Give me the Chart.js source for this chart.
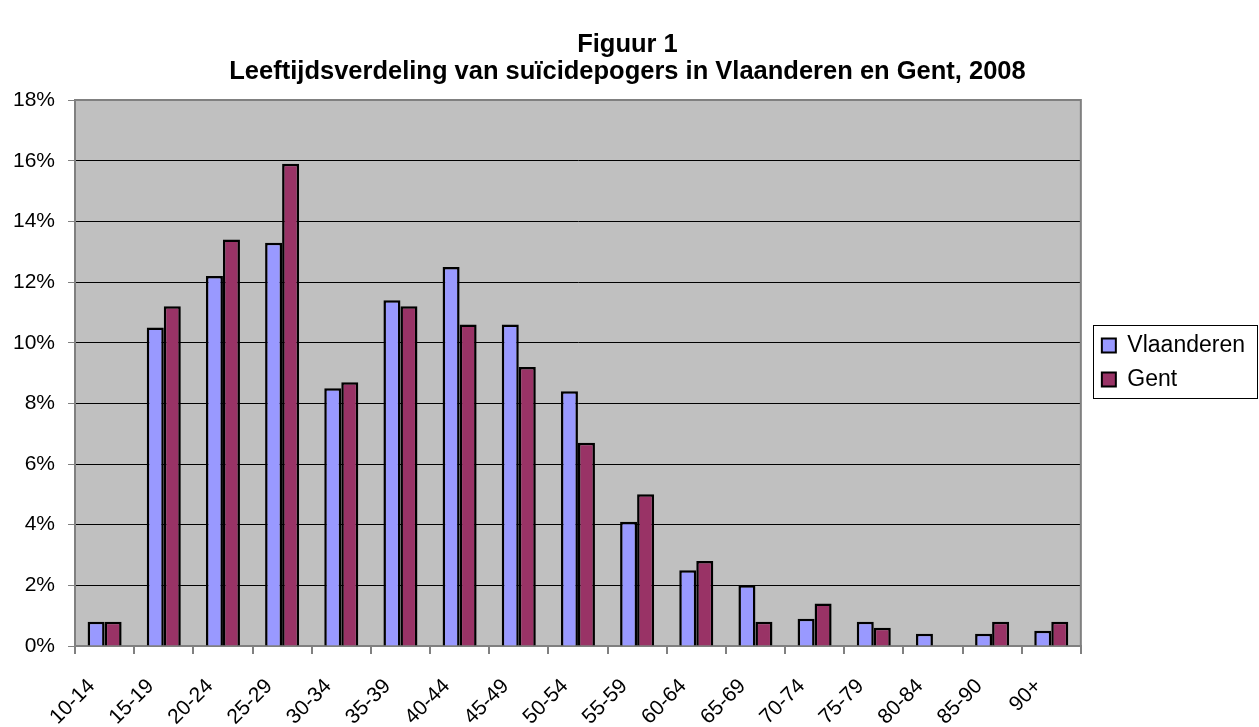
<!DOCTYPE html>
<html>
<head>
<meta charset="utf-8">
<script src="https://cdn.jsdelivr.net/npm/chart.js@4"></script>
<style>
  body { margin: 0; background: #fff; }
  #wrap { width: 1259px; height: 727px; }
</style>
</head>
<body>
<div id="wrap"><canvas id="grafico" width="1259" height="727"></canvas></div>
<script>
// Leeftijdscategorieën en percentages
const leeftijden = ['10-14', '15-19', '20-24', '25-29', '30-34', '35-39', '40-44', '45-49',
  '50-54', '55-59', '60-64', '65-69', '70-74', '75-79', '80-84', '85-90', '90+'];
const vlaanderen = [0.8, 10.5, 12.2, 13.3, 8.5, 11.4, 12.5, 10.6, 8.4, 4.1, 2.5, 2.0, 0.9, 0.8, 0.4, 0.4, 0.5];
const gent = [0.8, 11.2, 13.4, 15.9, 8.7, 11.2, 10.6, 9.2, 6.7, 5.0, 2.8, 0.8, 1.4, 0.6, 0, 0.8, 0.8];
const yTicks = [0, 2, 4, 6, 8, 10, 12, 14, 16, 18];

const fontFam = 'Arial, "Liberation Sans", sans-serif';

// grijze achtergrond en kader van het plotgebied, kader rond de legende
const achtergrond = {
  id: 'achtergrond',
  beforeDraw(chart) {
    const a = chart.chartArea, c = chart.ctx;
    c.save();
    c.fillStyle = '#c0c0c0';
    c.fillRect(a.left, a.top, a.right - a.left, a.bottom - a.top);
    c.restore();
  },
  afterDraw(chart) {
    const a = chart.chartArea, c = chart.ctx;
    c.save();
    c.strokeStyle = '#808080';
    c.lineWidth = 2;
    c.beginPath();
    c.moveTo(a.left, a.top);
    c.lineTo(a.right, a.top);
    c.lineTo(a.right, a.bottom);
    c.stroke();
    const hb = chart.legend.legendHitBoxes;
    if (hb && hb.length) {
      let l = Infinity, t = Infinity, r = -Infinity, b = -Infinity;
      hb.forEach(h => {
        l = Math.min(l, h.left); t = Math.min(t, h.top);
        r = Math.max(r, h.left + h.width); b = Math.max(b, h.top + h.height);
      });
      c.strokeStyle = '#000';
      c.lineWidth = 1;
      c.strokeRect(Math.round(l - 9) + 0.5, Math.round(t - 9) + 0.5, Math.round(r - l + 21), Math.round(b - t + 16));
    }
    c.restore();
  }
};

const ctx = document.getElementById('grafico').getContext('2d');
const myChart = new Chart(ctx, {
  type: 'bar',
  data: {
    labels: leeftijden,
    datasets: [
      {
        label: 'Vlaanderen',
        data: vlaanderen,
        backgroundColor: '#9999ff',
        borderColor: '#000000',
        borderWidth: 2.5
      },
      {
        label: 'Gent',
        data: gent,
        backgroundColor: '#993366',
        borderColor: '#000000',
        borderWidth: 2.5
      }
    ]
  },
  plugins: [achtergrond],
  options: {
    responsive: false,
    animation: false,
    layout: { padding: { left: 0, right: 4, top: 10, bottom: 0 } },
    datasets: {
      bar: { categoryPercentage: 0.575, barPercentage: 1.0 }
    },
    plugins: {
      title: {
        display: true,
        text: ['Figuur 1', 'Leeftijdsverdeling van suïcidepogers in Vlaanderen en Gent, 2008'],
        color: '#000',
        font: { family: fontFam, size: 25.5, weight: 'bold', lineHeight: 1.08 },
        padding: { top: 21, bottom: 14 }
      },
      legend: {
        position: 'right',
        align: 'start',
        title: {
          display: true,
          text: ' ',
          font: { size: 10 },
          padding: { top: 301, bottom: 0 }
        },
        labels: {
          color: '#000',
          font: { family: fontFam, size: 23 },
          boxWidth: 14,
          boxHeight: 14,
          padding: 11,
          generateLabels(chart) {
            return chart.data.datasets.map((ds, i) => ({
              text: ds.label,
              fillStyle: ds.backgroundColor,
              strokeStyle: '#000',
              lineWidth: 2,
              datasetIndex: i,
              fontColor: '#000'
            }));
          }
        }
      },
      tooltip: { enabled: false }
    },
    scales: {
      x: {
        grid: {
          display: true,
          drawOnChartArea: false,
          drawTicks: true,
          tickLength: 8,
          color: '#808080',
          lineWidth: 2
        },
        border: { color: '#808080', width: 2 },
        ticks: {
          color: '#000',
          font: { family: fontFam, size: 21 },
          minRotation: 45,
          maxRotation: 45,
          labelOffset: -13,
          padding: 20,
          autoSkip: false
        },
        afterFit(scale) {
          scale.height = 81;
          scale.paddingLeft = 0;
          scale.paddingRight = 0;
        }
      },
      y: {
        min: 0,
        max: 18,
        afterBuildTicks(axis) {
          axis.ticks = yTicks.map(v => ({ value: v }));
        },
        grid: {
          color: '#000',
          lineWidth: 1,
          tickLength: 7,
          tickColor: '#808080'
        },
        border: { color: '#808080', width: 2 },
        ticks: {
          color: '#000',
          font: { family: fontFam, size: 21 },
          padding: 13,
          callback: v => v + '%'
        }
      },
      // lege as rechts: ruimte tussen plotgebied en legende
      ruimte: {
        type: 'linear',
        position: 'right',
        display: true,
        grid: { display: false, drawTicks: false },
        border: { display: false },
        ticks: { display: false },
        afterFit(scale) { scale.width = 10; }
      }
    }
  }
});
</script>
</body>
</html>
